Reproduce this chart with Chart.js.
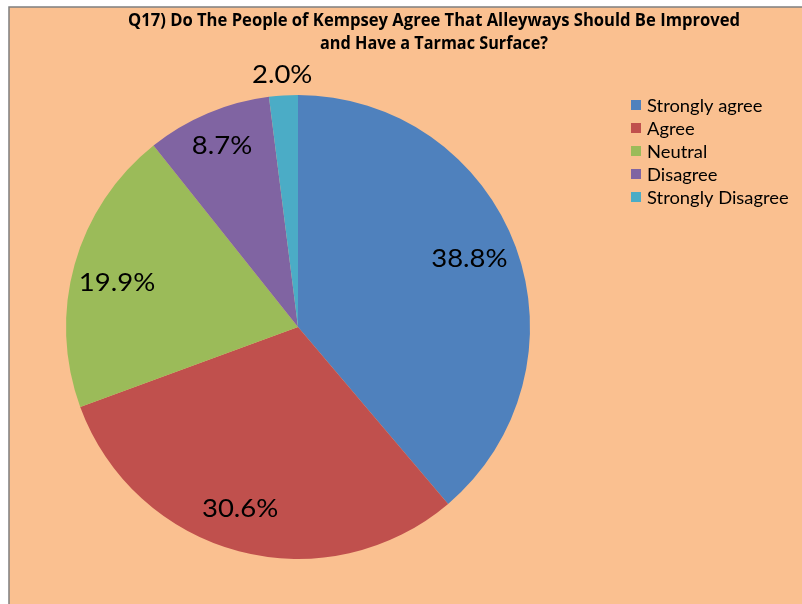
<!DOCTYPE html>
<html><head><meta charset="utf-8">
<script src="https://cdn.jsdelivr.net/npm/chart.js@4/dist/chart.umd.min.js"></script>
<style>html,body{margin:0;padding:0;background:#fff;}#wrap{width:802px;height:604px;position:relative;}</style>
</head><body><div id="wrap"><canvas id="c" width="802" height="604"></canvas></div>
<script>
const categories = ["Strongly agree", "Agree", "Neutral", "Disagree", "Strongly Disagree"];
const values = [38.8, 30.6, 19.9, 8.7, 2.0];
const colors = ["#4F81BD", "#C0504D", "#9BBB59", "#8064A2", "#4BACC6"];
const titleLines = ["Q17) Do The People of Kempsey Agree That Alleyways Should Be Improved", "and Have a Tarmac Surface?"];

const labelNudge = [[-5, -3], [-10, 0], [0, 7], [-3, -8], [0, 0]];

const deco = {
  id: 'deco',
  beforeDraw(chart) {
    const ctx = chart.ctx;
    ctx.save();
    ctx.fillStyle = '#ffffff'; ctx.fillRect(0, 0, 802, 604);
    ctx.fillStyle = '#FAC090'; ctx.fillRect(9, 7, 802, 604);
    ctx.strokeStyle = '#7f7f7f'; ctx.lineWidth = 1.5;
    ctx.beginPath(); ctx.moveTo(9, 610); ctx.lineTo(9, 7); ctx.lineTo(810, 7); ctx.stroke();
    ctx.restore();
  },
  afterDraw(chart) {
    const ctx = chart.ctx;
    ctx.save();
    // title
    ctx.fillStyle = '#000'; ctx.textBaseline = 'middle'; ctx.textAlign = 'center';
    ctx.font = 'bold 18px "Open Sans"';
    const tw = [612, 228];
    titleLines.forEach((t, i) => {
      const w = ctx.measureText(t).width;
      ctx.save(); ctx.translate(434, 21 + i * 23); ctx.scale(tw[i] / w, 1); ctx.fillText(t, 0, 0); ctx.restore();
    });
    // legend
    ctx.textAlign = 'left';
    ctx.font = '18px Lato';
    categories.forEach((c, i) => {
      const y = 105 + i * 23;
      ctx.fillStyle = colors[i];
      ctx.fillRect(631, y - 5, 10, 10);
      ctx.fillStyle = '#000';
      ctx.save(); ctx.translate(647, y + 1); ctx.scale(1.02, 1); ctx.fillText(c, 0, 0); ctx.restore();
    });
    // data labels
    const meta = chart.getDatasetMeta(0);
    ctx.font = '25px Lato'; ctx.textAlign = 'center'; ctx.fillStyle = '#000';
    meta.data.forEach((arc, i) => {
      const mid = (arc.startAngle + arc.endAngle) / 2;
      const r = values[i] < 5 ? arc.outerRadius * 1.087 : arc.outerRadius * 0.81;
      const x = arc.x + Math.cos(mid) * r + labelNudge[i][0];
      const y = arc.y + Math.sin(mid) * r + labelNudge[i][1];
      const t = values[i].toFixed(1) + '%';
      ctx.save(); ctx.translate(x, y); ctx.scale(1.1, 1); ctx.fillText(t, 0, 0); ctx.restore();
    });
    ctx.restore();
  }
};

new Chart(document.getElementById('c'), {
  type: 'pie',
  data: { labels: categories, datasets: [{ data: values, backgroundColor: colors, borderWidth: 0 }] },
  options: {
    responsive: false, animation: false,
    layout: { padding: { left: 66, right: 272, top: 95, bottom: 45 } },
    plugins: { legend: { display: false }, title: { display: false }, tooltip: { enabled: false } }
  },
  plugins: [deco]
});
</script></body></html>
